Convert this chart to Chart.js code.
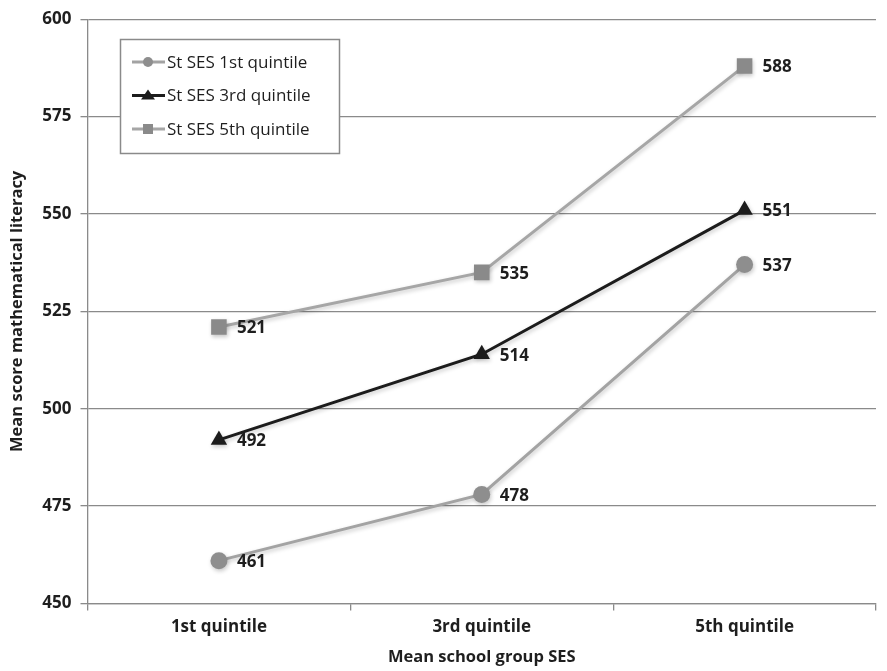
<!DOCTYPE html>
<html>
<head>
<meta charset="utf-8">
<script src="https://cdn.jsdelivr.net/npm/chart.js@4/dist/chart.umd.min.js"></script>
<style>
  html, body { margin: 0; padding: 0; background: #fff; }
  #wrap { width: 887px; height: 671px; }
</style>
</head>
<body>
<div id="wrap"><canvas id="c" width="887" height="671"></canvas></div>
<script>
// School SES groups on the x axis
const categories = ['1st quintile', '3rd quintile', '5th quintile'];
// Series names (student SES quintile)
const seriesNames = ['St SES 1st quintile', 'St SES 3rd quintile', 'St SES 5th quintile'];
// Mean mathematical literacy scores
const ses1st = [461, 478, 537];
const ses3rd = [492, 514, 551];
const ses5th = [521, 535, 588];
// Y axis range
const yMin = 450, yMax = 600, yStep = 25;

const FONT = '"Open Sans", Lato, sans-serif';
const TEXT = '#1e1e1e';

// Bold value labels to the right of each marker
const valueLabels = {
  id: 'valueLabels',
  afterDatasetsDraw(chart) {
    const ctx = chart.ctx;
    ctx.save();
    ctx.font = 'bold 17px ' + FONT;
    ctx.fillStyle = TEXT;
    ctx.textAlign = 'left';
    ctx.textBaseline = 'middle';
    chart.data.datasets.forEach((ds, i) => {
      chart.getDatasetMeta(i).data.forEach((pt, j) => {
        ctx.fillText(String(ds.data[j]), pt.x + 18, pt.y + 1.5);
      });
    });
    ctx.restore();
  }
};

// Boxed legend inside the plot area, upper left
const boxLegend = {
  id: 'boxLegend',
  afterDraw(chart) {
    const ctx = chart.ctx;
    const x0 = 120, y0 = 39, w = 219, h = 114;
    ctx.save();
    ctx.fillStyle = '#fff';
    ctx.fillRect(x0, y0, w, h);
    ctx.strokeStyle = '#8a8a8a';
    ctx.lineWidth = 1.5;
    ctx.strokeRect(x0 + 0.5, y0 + 0.5, w, h);
    chart.data.datasets.forEach((ds, i) => {
      const cy = 62 + i * 33.5;
      ctx.strokeStyle = ds.borderColor;
      ctx.lineWidth = 3;
      ctx.beginPath();
      ctx.moveTo(132, cy);
      ctx.lineTo(165, cy);
      ctx.stroke();
      ctx.fillStyle = ds.pointBackgroundColor;
      const cx = 148, r = 5;
      ctx.beginPath();
      if (ds.pointStyle === 'circle') {
        ctx.arc(cx, cy, r, 0, Math.PI * 2);
      } else if (ds.pointStyle === 'triangle') {
        ctx.moveTo(cx, cy - r - 1);
        ctx.lineTo(cx + r + 2, cy + r - 1);
        ctx.lineTo(cx - r - 2, cy + r - 1);
        ctx.closePath();
      } else {
        ctx.rect(cx - r, cy - r, 2 * r, 2 * r);
      }
      ctx.fill();
      ctx.fillStyle = TEXT;
      ctx.font = '17px ' + FONT;
      ctx.textAlign = 'left';
      ctx.textBaseline = 'middle';
      ctx.fillText(ds.label, 167, cy + 1);
    });
    ctx.restore();
  }
};

// Soft shadow under the markers
const markerShadow = {
  id: 'markerShadow',
  beforeDatasetDraw(chart) {
    const ctx = chart.ctx;
    ctx.save();
    ctx.shadowColor = 'rgba(0,0,0,0.22)';
    ctx.shadowBlur = 4;
    ctx.shadowOffsetX = 1;
    ctx.shadowOffsetY = 2;
  },
  afterDatasetDraw(chart) {
    chart.ctx.restore();
  }
};

function series(label, data, line, marker, style, radius) {
  return {
    label, data,
    borderColor: line,
    borderWidth: 3,
    backgroundColor: marker,
    pointBackgroundColor: marker,
    pointBorderColor: marker,
    pointBorderWidth: 0,
    pointStyle: style,
    pointRadius: radius,
    pointHoverRadius: radius,
    tension: 0
  };
}

new Chart(document.getElementById('c'), {
  type: 'line',
  data: {
    labels: categories,
    datasets: [
      series(seriesNames[0], ses1st, '#a3a3a3', '#8e8e8e', 'circle', 8.5),
      series(seriesNames[1], ses3rd, '#1c1c1c', '#1c1c1c', 'triangle', 9.5),
      series(seriesNames[2], ses5th, '#a6a6a6', '#8a8a8a', 'rect', 11)
    ]
  },
  options: {
    responsive: false,
    animation: false,
    events: [],
    layout: { padding: { top: 16, right: -3, left: 0, bottom: 0 } },
    plugins: {
      legend: { display: false },
      tooltip: { enabled: false }
    },
    scales: {
      x: {
        offset: true,
        grid: {
          offset: true,
          drawOnChartArea: false,
          color: '#8a8a8a',
          tickLength: 7,
          lineWidth: 1.3
        },
        border: { color: '#8a8a8a', width: 1.3 },
        ticks: {
          color: TEXT,
          font: { family: FONT, size: 17, weight: 'bold' },
          padding: 6
        },
        title: {
          display: true,
          text: 'Mean school group SES',
          color: TEXT,
          font: { family: FONT, size: 16.5, weight: 'bold' },
          padding: { top: 4, bottom: 4 }
        },
        afterFit(scale) { scale.height = 67.5; }
      },
      y: {
        min: yMin,
        max: yMax,
        grid: {
          color: '#8a8a8a',
          lineWidth: 1.3,
          tickLength: 7
        },
        border: { color: '#8a8a8a', width: 1.3 },
        ticks: {
          stepSize: yStep,
          color: TEXT,
          font: { family: FONT, size: 17, weight: 'bold' },
          padding: 9
        },
        title: {
          display: true,
          text: 'Mean score mathematical literacy',
          color: TEXT,
          font: { family: FONT, size: 16.5, weight: 'bold' },
          padding: { top: 7, bottom: 4 }
        },
        afterFit(scale) { scale.width = 87.5; }
      }
    }
  },
  plugins: [markerShadow, valueLabels, boxLegend]
});
</script>
</body>
</html>
